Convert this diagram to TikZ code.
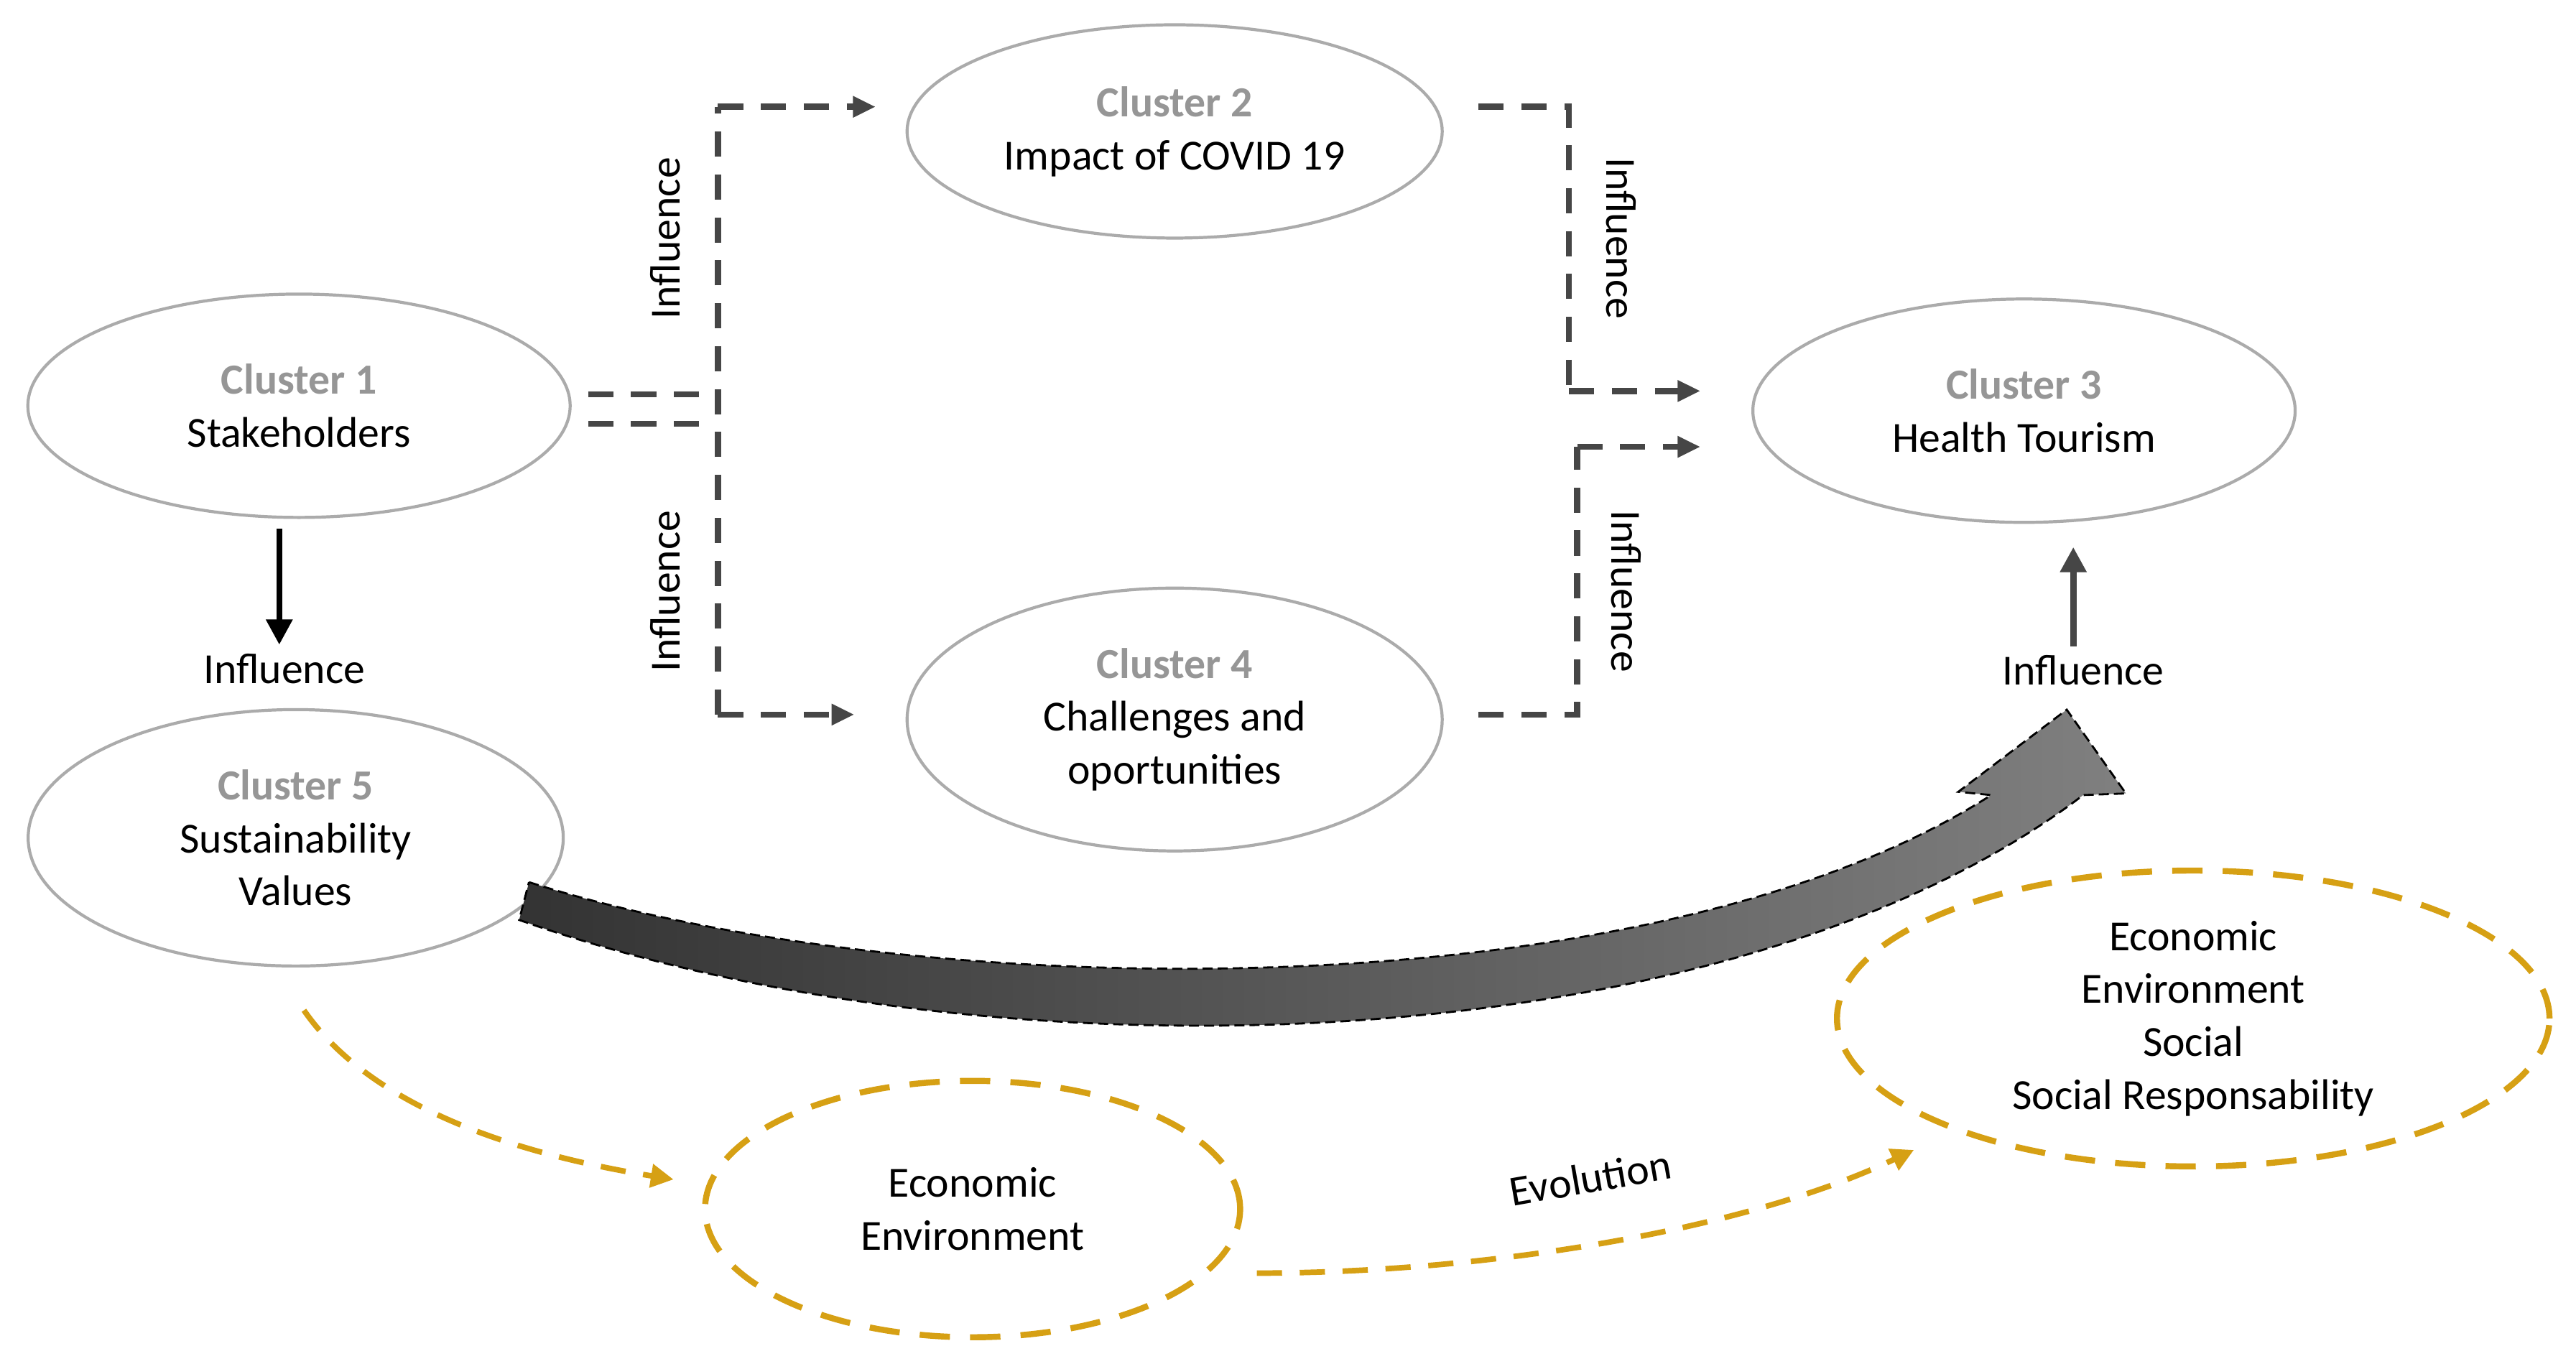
\documentclass[tikz,border=0pt]{standalone}
\usepackage{fontspec}
\setmainfont{Carlito}
\usetikzlibrary{shapes.geometric,arrows.meta}
\definecolor{gold}{RGB}{214,160,20}
\definecolor{clgray}{RGB}{150,150,150}
\definecolor{lngray}{RGB}{70,70,70}
\begin{document}
\begin{tikzpicture}[x=0.02287cm,y=-0.02287cm,
  font=\fontsize{17}{21}\selectfont,
  cluster/.style={draw=clgray!80,line width=1.2pt,ellipse,align=center,inner sep=0pt},
  goldell/.style={draw=gold,ellipse,dash pattern=on 12pt off 8pt,line width=2.4pt,align=center,inner sep=0pt},
  infl/.style={draw=lngray,dash pattern=on 10pt off 7pt,line width=2.4pt},
  inflarrow/.style={infl,-{Triangle[length=9pt,width=8pt]}},
  goldarrow/.style={draw=gold,dash pattern=on 10pt off 7pt,line width=2.2pt,-{Triangle[length=9pt,width=9pt]}}]
\useasboundingbox (0,0) rectangle (1568,830);
% clusters
\node[cluster,minimum width=7.55cm,minimum height=3.11cm] (c1) at (182,247) {{\color{clgray}\bfseries Cluster 1}\\Stakeholders};
\node[cluster,minimum width=7.45cm,minimum height=2.97cm] (c2) at (715,80) {{\color{clgray}\bfseries Cluster 2}\\Impact of COVID 19};
\node[cluster,minimum width=7.55cm,minimum height=3.11cm] (c3) at (1232,250) {{\color{clgray}\bfseries Cluster 3}\\Health Tourism};
\node[cluster,minimum width=7.45cm,minimum height=3.66cm] (c4) at (715,438) {{\color{clgray}\bfseries Cluster 4}\\Challenges and\\oportunities};
\node[cluster,minimum width=7.45cm,minimum height=3.57cm] (c5) at (180,510) {{\color{clgray}\bfseries Cluster 5}\\Sustainability\\Values};
\node[goldell,minimum width=7.45cm,minimum height=3.57cm] (ee) at (592,736) {Economic\\Environment};
\node[goldell,minimum width=9.92cm,minimum height=4.12cm] (es) at (1335,620) {Economic\\Environment\\Social\\Social Responsability};
% dashed influence links
\coordinate (j1) at (437,65);
\coordinate (j2) at (437,435);
\draw[infl] (358,240) -- (432,240);
\draw[infl] (358,258) -- (432,258);
\draw[infl] (j2) -- (j1);
\draw[inflarrow] (j1) -- (533,65);
\draw[inflarrow] (j2) -- (520,435);
\draw[infl] (900,65) -- (955,65) -- (955,238);
\draw[inflarrow] (955,238) -- (1035,238);
\draw[infl] (900,435) -- (960,435) -- (960,272);
\draw[inflarrow] (960,272) -- (1035,272);
\node[rotate=90] (t1) at (405,145) {Influence};
\node[rotate=90] (t2) at (405,360) {Influence};
\node[rotate=-90] (t3) at (987,145) {Influence};
\node[rotate=-90] (t4) at (990,360) {Influence};
% solid influences
\node (t5) at (173,407) {Influence};
\node (t6) at (1268,408) {Influence};
\draw[line width=2.4pt,-{Triangle[length=10pt,width=10pt]}] (170,322) -- (t5.north -| 170,0);
\draw[draw=lngray,line width=2.6pt,-{Triangle[length=10pt,width=10pt]}] (t6.north -| 1262,0) -- (1262,333);
% big curved arrow
\shade[left color=black!80,right color=black!50,draw=black,dash pattern=on 4pt off 2pt,line width=0.8pt]
  (322,537) .. controls (550,610) and (1000,620) .. (1212,484)
  -- (1192,482) -- (1258,432) -- (1294,483) -- (1268,484)
  .. controls (1050,650) and (600,660) .. (316,560) -- cycle;
% gold evolution
\draw[goldarrow] (185,615) .. controls (230,680) and (330,705) .. (410,718);
\draw[goldarrow] (765,775) .. controls (900,775) and (1060,750) .. (1165,700);
\node[rotate=10] (t7) at (968,717) {Evolution};
\end{tikzpicture}
\end{document}
